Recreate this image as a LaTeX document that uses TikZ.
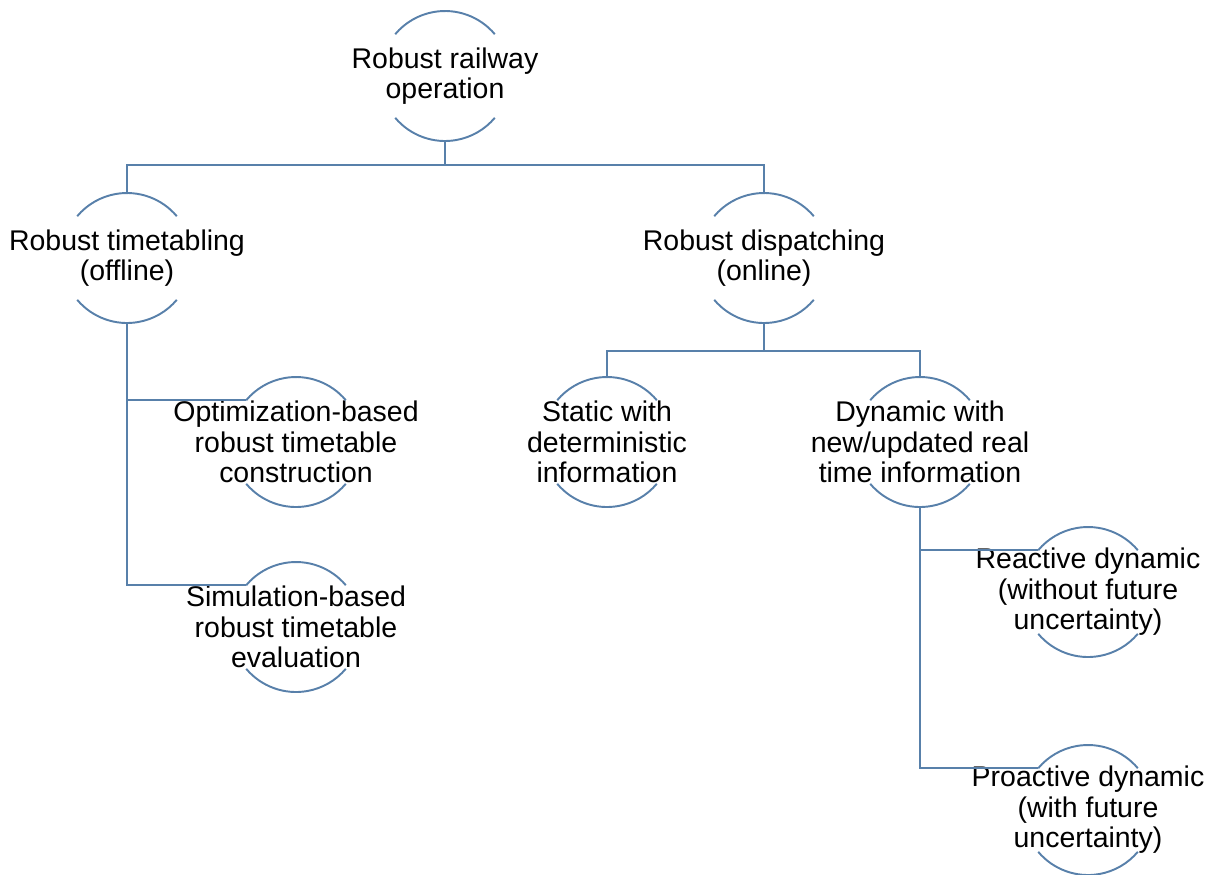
\documentclass[tikz,border=0pt]{standalone}
\usepackage{fontspec}
\setmainfont{Liberation Sans}
\usetikzlibrary{positioning, calc}
\definecolor{linkblue}{RGB}{88,128,170}

\tikzset{
  bubble/.style={circle, draw=none, minimum size=2.6cm, inner sep=0pt, outer sep=0pt},
  lbl/.style={align=center, text=black, inner sep=0pt, font=\fontsize{16.2pt}{17.4pt}\selectfont},
  link/.style={draw=linkblue, line width=1.1pt}
}

\begin{document}
\begin{tikzpicture}
  \useasboundingbox (0,0) rectangle (24.28,-17.48);

  % Top level
  \node[bubble, label={[lbl]center:{Robust railway\\operation}}] (root) at (8.9,-1.52) {};

  % Second level
  \node[bubble, label={[lbl]center:{Robust timetabling\\(offline)}}] (tt) at (2.54,-5.16) {};
  \node[bubble, label={[lbl]center:{Robust dispatching\\(online)}}] (dsp) at (15.28,-5.16) {};

  % Timetabling branches
  \node[bubble, label={[lbl]center:{Optimization-based\\robust timetable\\construction}}] (opt) at (5.92,-8.84) {};
  \node[bubble, label={[lbl]center:{Simulation-based\\robust timetable\\evaluation}}] (sim) at (5.92,-12.54) {};

  % Dispatching branches
  \node[bubble, label={[lbl]center:{Static with\\deterministic\\information}}] (stat) at (12.14,-8.84) {};
  \node[bubble, label={[lbl]center:{Dynamic with\\new/updated real\\time information}}] (dyn) at (18.4,-8.84) {};

  % Dynamic branches
  \node[bubble, label={[lbl]center:{Reactive dynamic\\(without future\\uncertainty)}}] (rea) at (21.76,-11.84) {};
  \node[bubble, label={[lbl]center:{Proactive dynamic\\(with future\\uncertainty)}}] (pro) at (21.76,-16.2) {};

  % Arcs above and below each text
  \foreach \n in {root,tt,dsp,opt,sim,stat,dyn,rea,pro} {
    \draw[link] (\n.40) arc[start angle=40, end angle=140, radius=1.3cm];
    \draw[link] (\n.220) arc[start angle=220, end angle=320, radius=1.3cm];
  }

  % Connectors
  \draw[link] (root.south) -- ++(0,-0.48) coordinate (rootjoin);
  \draw[link] (rootjoin) -| (tt.north);
  \draw[link] (rootjoin) -| (dsp.north);

  \draw[link] (tt.south) |- (opt.140);
  \draw[link] (tt.south) |- (sim.140);

  \draw[link] (dsp.south) -- ++(0,-0.56) coordinate (dspjoin);
  \draw[link] (dspjoin) -| (stat.north);
  \draw[link] (dspjoin) -| (dyn.north);

  \draw[link] (dyn.south) |- (rea.140);
  \draw[link] (dyn.south) |- (pro.140);
\end{tikzpicture}
\end{document}
